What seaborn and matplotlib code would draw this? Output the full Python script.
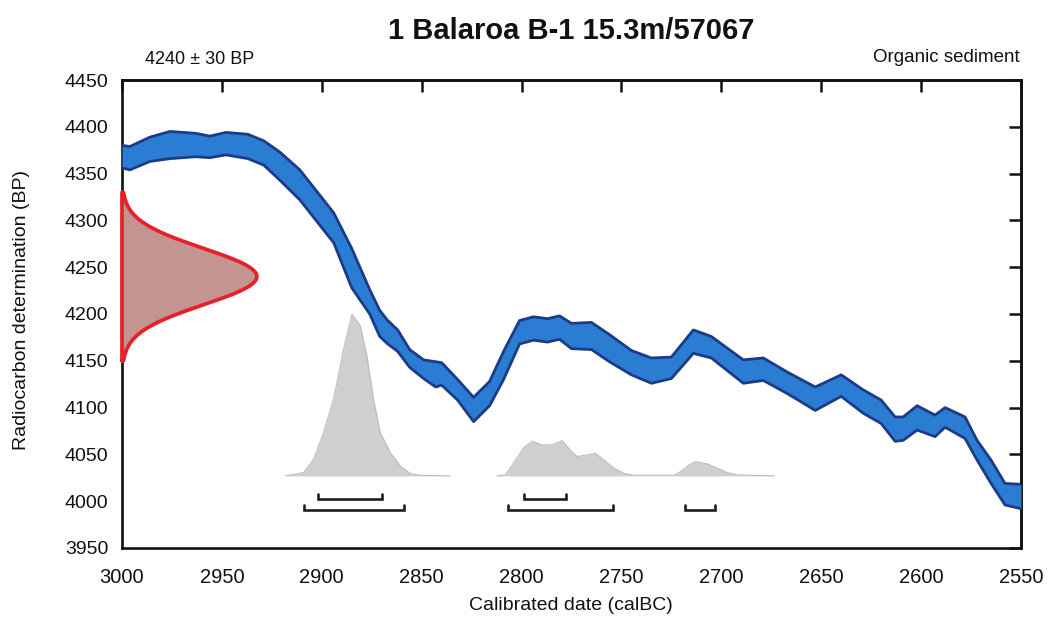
import numpy as np
import pandas as pd
import matplotlib
matplotlib.use("Agg")
import matplotlib.pyplot as plt
import seaborn as sns

# ---------------- data ----------------
cal_years = [3000, 2996, 2986, 2976, 2963, 2956, 2948, 2937, 2929, 2921, 2911, 2894,
             2885, 2876, 2871, 2867, 2862, 2856, 2849, 2843, 2840, 2836, 2832, 2824,
             2816, 2809, 2801, 2794, 2787, 2781, 2775, 2765, 2756, 2745, 2735, 2725,
             2714, 2705, 2689, 2679, 2667, 2653, 2640, 2629, 2620, 2613, 2609, 2602,
             2593, 2588, 2578, 2572, 2565, 2558, 2550]
curve_upper = [4380, 4379, 4389, 4395, 4393, 4390, 4394, 4392, 4385, 4373, 4354, 4308,
               4270, 4226, 4204, 4193, 4183, 4162, 4151, 4149, 4148, 4139, 4130, 4111,
               4128, 4160, 4193, 4197, 4195, 4198, 4190, 4191, 4178, 4161, 4153, 4154,
               4183, 4176, 4151, 4153, 4138, 4122, 4135, 4119, 4108, 4090, 4090, 4102,
               4092, 4100, 4090, 4065, 4044, 4019, 4018]
curve_lower = [4356, 4354, 4363, 4366, 4368, 4367, 4370, 4366, 4359, 4343, 4322, 4276,
               4228, 4200, 4176, 4168, 4160, 4143, 4131, 4122, 4124, 4116, 4108, 4085,
               4102, 4130, 4168, 4172, 4170, 4173, 4163, 4162, 4149, 4135, 4126, 4131,
               4158, 4153, 4126, 4129, 4115, 4097, 4112, 4094, 4083, 4064, 4065, 4076,
               4069, 4079, 4067, 4044, 4019, 3996, 3992]

c14_age = 4240
c14_err = 30

hist1_years = [2918.3, 2909.1, 2904.1, 2899.1, 2894.1, 2889.1, 2884.9, 2880.7,
               2877.4, 2874.1, 2870.7, 2865.7, 2860.7, 2855.7, 2850.7, 2835.6]
hist1_prob = [0, 3.6, 17.8, 46.3, 81.9, 135.3, 172.7, 160.3,
              128.2, 81.9, 46.3, 24.9, 10.7, 2.5, 0.7, 0]
hist2_years = [2812.2, 2808.1, 2803.9, 2798.9, 2794.7, 2789.7, 2784.7, 2779.7,
               2775.5, 2772.2, 2767.2, 2763.0, 2758.8, 2753.8, 2748.8, 2743.8,
               2723.7, 2720.4, 2716.2, 2712.9, 2707.0, 2702.0, 2697.0, 2692.0, 2673.6]
hist2_prob = [0, 1.1, 14.2, 30.3, 37.0, 33.1, 33.1, 37.7,
              27.1, 20.7, 22.4, 24.2, 17.1, 8.2, 2.8, 0.7,
              0.7, 4.6, 11.7, 15.3, 12.8, 8.2, 3.6, 1.1, 0]
hist_base = 4027

range68 = [(2902, 2870), (2799, 2778)]
range95 = [(2909, 2859), (2807, 2754), (2718, 2703)]

x_ticks = [3000, 2950, 2900, 2850, 2800, 2750, 2700, 2650, 2600, 2550]
y_ticks = [3950, 4000, 4050, 4100, 4150, 4200, 4250, 4300, 4350, 4400, 4450]

title = "1 Balaroa B-1 15.3m/57067"
left_note = "4240 \u00b1 30 BP"
right_note = "Organic sediment"
x_label = "Calibrated date (calBC)"
y_label = "Radiocarbon determination (BP)"

# ---------------- style ----------------
sns.set_theme(style="white")
plt.rcParams['font.family'] = ['Liberation Sans', 'DejaVu Sans']
TXT = "#111111"

W, H = 1050, 620
fig = plt.figure(figsize=(W / 100, H / 100), dpi=100)
fig.patch.set_facecolor("white")
L, R, T, B = 122, 1021, 80, 548
ax = fig.add_axes([L / W, 1 - B / H, (R - L) / W, (B - T) / H])
ax.set_facecolor("white")

curve = pd.DataFrame({"year": cal_years, "upper": curve_upper, "lower": curve_lower})

# gray calibrated probability
for yrs, pr in [(hist1_years, hist1_prob), (hist2_years, hist2_prob)]:
    top = hist_base + np.array(pr)
    ax.fill_between(yrs, hist_base, top, color="#cfcfcf", linewidth=0, zorder=2)
    ax.plot(yrs, top, color="#bcbcbc", linewidth=0.8, zorder=2)

# calibration curve band
ax.fill_between(curve["year"], curve["lower"], curve["upper"],
                color="#2b7dd3", linewidth=0, zorder=3)
sns.lineplot(data=curve, x="year", y="upper", ax=ax, color="#1c3b86",
             linewidth=2.0, zorder=4, sort=False)
sns.lineplot(data=curve, x="year", y="lower", ax=ax, color="#1c3b86",
             linewidth=2.0, zorder=4, sort=False)

# radiocarbon determination distribution
yy = np.linspace(c14_age - 3 * c14_err, c14_age + 3 * c14_err, 300)
width = 67.5
xx = 3000 - width * np.exp(-0.5 * ((yy - c14_age) / c14_err) ** 2)
ax.fill_betweenx(yy, 3000, xx, color="#c49490", linewidth=0, zorder=5)
ax.plot(np.concatenate([[3000], xx, [3000], [3000]]),
        np.concatenate([[yy[0]], yy, [yy[-1]], [yy[0]]]),
        color="#e5222c", linewidth=2.7, zorder=6, clip_on=False,
        solid_joinstyle="round")

# range brackets
def bracket(x0, x1, y, h):
    ax.plot([x0, x0, x1, x1], [y + h, y, y, y + h], color="#1e1e1e",
            linewidth=1.9, zorder=4, solid_joinstyle="miter")

for a, b in range68:
    bracket(a, b, 4002, 5.5)
for a, b in range95:
    bracket(a, b, 3990.5, 5.5)

# axes
ax.set_xlim(3000, 2550)
ax.set_ylim(3950, 4450)
ax.set_xticks(x_ticks)
ax.set_yticks(y_ticks)
ax.set_xlabel("")
ax.set_ylabel("")
for s in ax.spines.values():
    s.set_visible(True)
    s.set_color("#111111")
    s.set_linewidth(1.9)
ax.tick_params(axis="x", direction="out", length=8.5, width=1.8, color="#111111",
               labelsize=14.5, labelcolor=TXT, pad=6)
ax.tick_params(axis="y", direction="out", length=9, width=1.8, color="#111111",
               labelsize=14, labelcolor=TXT, pad=1)

top = ax.secondary_xaxis("top")
top.set_xticks(x_ticks)
top.tick_params(direction="in", length=8.5, width=1.8, color="#111111",
                labeltop=False)
top.spines["top"].set_linewidth(2.0)
right = ax.secondary_yaxis("right")
right.set_yticks(y_ticks)
right.tick_params(direction="in", length=8.5, width=1.8, color="#111111",
                  labelright=False)
right.spines["right"].set_linewidth(1.9)

# texts
fig.text(571 / W, 1 - 31 / H, title, ha="center", va="center",
         fontsize=21, fontweight="bold", color=TXT)
fig.text(145 / W, 1 - 60 / H, left_note, ha="left", va="center",
         fontsize=13, color=TXT)
fig.text(1020 / W, 1 - 58 / H, right_note, ha="right", va="center",
         fontsize=13.5, color=TXT)
fig.text(571 / W, 1 - 605 / H, x_label, ha="center", va="center",
         fontsize=14, color=TXT)
fig.text(22 / W, 1 - 310 / H, y_label, ha="center", va="center",
         rotation=90, fontsize=14, color=TXT)

fig.savefig("out.png", dpi=100, facecolor="white")
